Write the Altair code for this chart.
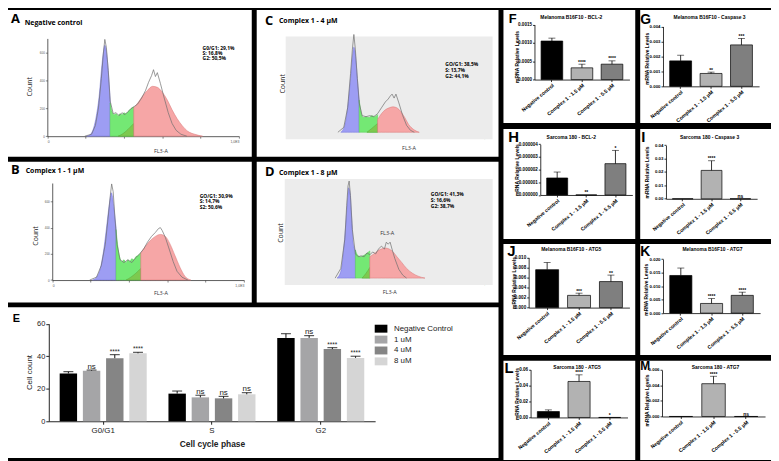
import altair as alt
import pandas as pd

FB = "Liberation Sans"
FF = "Open Sans"

# ---------------- Flow cytometry histograms (FL3-A channel 0-1000, counts) ----------------
A_BLUE_X = [205, 226, 241, 256, 272, 282, 292, 300, 308, 318, 328]
A_BLUE_Y = [0, 14, 56, 147, 308, 469, 595, 651, 609, 469, 259]
A_GREEN_X = [328, 338, 349, 359, 369, 379, 390, 400, 410, 420, 431, 441, 451]
A_GREEN_Y = [238, 175, 154, 161, 147, 161, 154, 168, 161, 175, 189, 203, 210]
A_OVER_X = [369, 390, 410, 431, 451]
A_OVER_Y = [0, 14, 35, 63, 91]
A_RED_X = [451, 472, 497, 523, 549, 574, 600, 626, 651, 677, 703, 733, 769, 810]
A_RED_Y = [203, 238, 287, 329, 357, 350, 315, 259, 189, 126, 77, 35, 14, 0]
A_GRAY_X = [195, 231, 251, 267, 282, 292, 300, 308, 318, 328, 344, 359, 374, 390, 405, 420, 436,
            451, 472, 492, 513, 528, 544, 554, 564, 574, 590, 610, 631, 651, 672, 697, 728]
A_GRAY_Y = [0, 14, 77, 203, 413, 588, 693, 637, 469, 252, 161, 168, 147, 168, 154, 175, 196,
            210, 231, 273, 329, 385, 434, 476, 427, 455, 378, 273, 168, 91, 42, 14, 0]

B_BLUE_X = [210, 231, 251, 267, 282, 292, 303, 308, 315, 323, 333]
B_BLUE_Y = [0, 22, 89, 215, 385, 511, 629, 666, 629, 533, 400]
B_GREEN_X = [333, 344, 354, 364, 374, 385, 395, 405, 415, 426, 436, 446, 462]
B_GREEN_Y = [385, 237, 163, 141, 155, 133, 155, 141, 163, 155, 178, 185, 207]
B_OVER_X = [385, 410, 436, 462]
B_OVER_Y = [0, 22, 52, 89]
B_RED_X = [462, 487, 513, 538, 564, 590, 615, 641, 667, 692, 723]
B_RED_Y = [207, 259, 303, 333, 348, 333, 274, 185, 96, 30, 0]
B_GRAY_X = [195, 231, 256, 277, 292, 303, 310, 318, 328, 338, 354, 374, 395, 415, 436, 456, 477,
            497, 518, 538, 554, 564, 574, 590, 610, 631, 651, 677, 708]
B_GRAY_Y = [0, 22, 111, 274, 481, 644, 733, 674, 459, 274, 155, 133, 155, 133, 170, 200, 237,
            289, 333, 363, 392, 400, 377, 326, 237, 141, 67, 22, 0]

C_BLUE_X = [184, 205, 221, 237, 247, 255, 263, 274, 284]
C_BLUE_Y = [0, 74, 263, 579, 811, 916, 842, 579, 347]
C_GREEN_X = [284, 295, 305, 321, 337, 353, 368, 384]
C_GREEN_Y = [347, 211, 158, 168, 158, 179, 168, 190]
C_OVER_X = [326, 353, 384]
C_OVER_Y = [0, 42, 95]
C_RED_X = [384, 405, 426, 447, 468, 489, 511, 532, 553, 579, 611]
C_RED_Y = [137, 200, 242, 263, 274, 263, 221, 158, 84, 32, 0]
C_GRAY_X = [168, 200, 221, 237, 247, 255, 263, 274, 284, 300, 321, 342, 363, 384, 405, 426, 442,
            453, 463, 474, 484, 500, 521, 542, 563, 584]
C_GRAY_Y = [0, 53, 263, 632, 895, 1053, 895, 579, 316, 179, 168, 179, 168, 200, 263, 326, 358,
            390, 411, 368, 411, 316, 179, 74, 21, 0]

D_BLUE_X = [189, 209, 224, 235, 245, 250, 258, 265, 275, 286]
D_BLUE_Y = [0, 74, 316, 579, 874, 979, 916, 684, 368, 300]
D_GREEN_X = [286, 296, 311, 326, 342, 362]
D_GREEN_Y = [305, 253, 232, 242, 263, 295]
D_OVER_X = [321, 342, 362]
D_OVER_Y = [0, 53, 116]
D_RED_X = [362, 383, 403, 423, 444, 464, 485, 505, 531, 556, 587, 617, 653]
D_RED_Y = [232, 263, 295, 316, 326, 316, 284, 232, 168, 105, 53, 21, 0]
D_GRAY_X = [179, 209, 230, 240, 247, 253, 260, 270, 286, 301, 316, 332, 347, 362, 377, 393, 408,
            423, 439, 449, 459, 469, 479, 494, 515, 536, 556]
D_GRAY_Y = [0, 105, 421, 790, 1000, 1053, 895, 526, 263, 232, 242, 232, 274, 253, 284, 263, 316,
            347, 316, 390, 368, 390, 316, 211, 95, 32, 0]

STATS_A = ["G0/G1: 29,1%", "S: 16,8%", "G2: 50,5%"]
STATS_B = ["GO/G1: 30,9%", "S: 14,7%", "S2: 50,6%"]
STATS_C = ["GO/G1: 38,5%", "S: 13,7%", "G2: 44,1%"]
STATS_D = ["GO/G1: 41,3%", "S: 16,6%", "G2: 38,7%"]
FLOW_XTICKS = [0, 200, 400, 600, 800, 1000]
YTICKS_AB = [0, 200, 400, 600]
YTICKS_CD = [0, 200, 400, 600, 800, 1000]

# ---------------- Panel E: cell cycle ----------------
E_PHASES = ["G0/G1", "S", "G2"]
E_GROUPS = ["Negative Control", "1 uM", "4 uM", "8 uM"]
E_COLORS = ["#000000", "#a5a5a7", "#858585", "#d5d5d5"]
E_NC = [29.4, 17.0, 51.3]
E_NC_ERR = [1.1, 1.6, 2.6]
E_1UM = [31.1, 14.7, 51.3]
E_1UM_ERR = [0.4, 1.3, 1.4]
E_4UM = [38.8, 14.1, 44.4]
E_4UM_ERR = [2.2, 1.2, 0.9]
E_8UM = [41.8, 16.6, 39.0]
E_8UM_ERR = [0.6, 1.0, 1.0]
E_NC_SIG = ["", "", ""]
E_1UM_SIG = ["ns", "ns", "ns"]
E_4UM_SIG = ["****", "ns", "****"]
E_8UM_SIG = ["****", "ns", "****"]

# ---------------- Panels F-M: mRNA relative levels ----------------
BAR_CATS = ["Negative control", "Complex 1 - 1.5 µM", "Complex 1 - 5.5 µM"]
BAR_COLORS = ["#000000", "#b2b2b2", "#7f7f7f"]
F_VAL = [0.00105, 0.00032, 0.00042]
F_ERR = [0.00008, 0.00010, 0.00009]
F_SIG = ["", "****", "****"]
G_VAL = [0.00170, 0.00086, 0.00277]
G_ERR = [0.00038, 0.00009, 0.00043]
G_SIG = ["", "**", "***"]
H_VAL = [0.00000134, 0.0, 0.00000247]
H_ERR = [0.00000047, 0.0, 0.00000105]
H_SIG = ["", "**", "*"]
I_VAL = [0.0, 0.0212, 0.0]
I_ERR = [0.0, 0.0072, 0.0]
I_SIG = ["", "****", "ns"]
J_VAL = [0.00756, 0.00244, 0.00519]
J_ERR = [0.00142, 0.00044, 0.00129]
J_SIG = ["", "***", "**"]
K_VAL = [0.01393, 0.00357, 0.00657]
K_ERR = [0.00275, 0.00179, 0.00118]
K_SIG = ["", "****", "****"]
L_VAL = [0.0074, 0.0452, 0.0]
L_ERR = [0.0021, 0.0083, 0.0]
L_SIG = ["", "****", "*"]
M_VAL = [0.0, 0.00423, 0.0]
M_ERR = [0.0, 0.00096, 0.0]
M_SIG = ["", "****", "ns"]


class Cell:
    """Maps reference-figure coordinates into a panel of size w x h."""
    def __init__(self, rx, ry, rw, rh, w, h):
        self.rx, self.ry, self.w, self.h = rx, ry, w, h
        self.sx, self.sy = w / rw, h / rh

    def X(self, x):
        return round((x - self.rx) * self.sx, 2)

    def Y(self, y):
        return round((y - self.ry) * self.sy, 2)


def label(cell, x, y, s, size, weight="normal", font=FB, align="left",
          baseline="alphabetic", color="black", lh=None):
    kw = dict(fontSize=size, fontWeight=weight, font=font, align=align,
              baseline=baseline, color=color)
    if lh:
        kw.update(lineBreak="\n", lineHeight=lh)
    return alt.Chart(alt.Data(values=[{"t": s}])).mark_text(**kw).encode(
        x=alt.value(cell.X(x)), y=alt.value(cell.Y(y)), text="t:N")


AREA_STYLE = {"blue": ("#9d9df3", "#6f6fdc"), "green": ("#74e874", "#50cf50"),
              "over": ("#7dc94f", "#5aa83a"), "red": ("#f6a6a6", "#d87474")}


def flow_panel(cell, letter, lxy, name, nxy, stats, sxy, slh, comps, xax, yax, ymax,
               yticks, xtitle, ytitle, bg=None, inner=None):
    xr0, xr1 = cell.X(xax[0]), cell.X(xax[1])
    yr0, yr1 = cell.Y(yax[0]), cell.Y(yax[1])
    xsc = alt.Scale(domain=[0, 1000], range=[xr0, xr1], nice=False, zero=False)
    ysc = alt.Scale(domain=[0, ymax], range=[yr0, yr1], nice=False)
    xaxis = alt.Axis(orient="bottom", offset=-(cell.h - yr0), values=FLOW_XTICKS,
                     labelExpr="datum.value == 0 ? '0' : (datum.value == 1000 ? '1,0E3' : '')",
                     labelFontSize=3.5, labelColor="#555", tickSize=2, tickColor="#333",
                     tickWidth=0.6, domainColor="#333", domainWidth=0.8, labelPadding=1,
                     title="FL3-A", titleFont=FF, titleFontSize=5.5, titleFontWeight="normal",
                     titleColor="#333", titleX=cell.X(xtitle[0]), titleY=cell.Y(xtitle[1]) - yr0,
                     titleAlign="center", titleBaseline="middle", grid=False)
    yaxis = alt.Axis(orient="left", offset=-xr0, values=yticks, labelFontSize=3,
                     labelColor="#555", tickSize=2, tickColor="#333", tickWidth=0.6,
                     domainColor="#333", domainWidth=0.8, labelPadding=1, title="Count",
                     titleFont=FF, titleFontSize=7, titleFontWeight="normal", titleColor="#222",
                     titleX=cell.X(ytitle[0]) - xr0, titleY=cell.Y(ytitle[1]), titleAngle=270,
                     titleAlign="center", titleBaseline="middle", grid=False)
    layers = []
    if bg:
        layers.append(alt.Chart(alt.Data(values=[{"x": bg[0], "x2": bg[1], "y": bg[2], "y2": bg[3]}]))
                      .mark_rect(color="#ececec")
                      .encode(x=alt.X("x:Q", scale=xsc, axis=xaxis), x2="x2:Q",
                              y=alt.Y("y:Q", scale=ysc, axis=yaxis), y2="y2:Q"))
    for xs, ys, kind in comps:
        df = pd.DataFrame({"x": xs, "y": ys})
        enc = dict(x=alt.X("x:Q", scale=xsc, axis=xaxis), y=alt.Y("y:Q", scale=ysc, axis=yaxis))
        if kind == "gray":
            layers.append(alt.Chart(df).mark_line(color="#6e6e6e", strokeWidth=0.7).encode(**enc))
        else:
            f, s = AREA_STYLE[kind]
            layers.append(alt.Chart(df).mark_area(fill=f, stroke=s, strokeWidth=0.5,
                                                  interpolate="monotone").encode(**enc))
    layers.append(label(cell, lxy[0], lxy[1], letter, 13, "bold", FF))
    layers.append(label(cell, nxy[0], nxy[1], name, 7, "bold", FF))
    layers.append(label(cell, sxy[0], sxy[1], "\n".join(stats), 5, "bold", FF, lh=slh))
    if inner:
        layers.append(label(cell, inner[0], inner[1], "FL3-A", 5.5, "normal", FF,
                            align="center", baseline="middle", color="#333"))
    return alt.layer(*layers).properties(width=cell.w, height=cell.h)


def bar_panel(cell, letter, lxy, lsize, title, txy, vals, errs, sigs, ydom, yticks, yfmt,
              yax_x, yb, yt, x1, ytitle_x, ytitle_y=None, tick_fs=4.6):
    df = pd.DataFrame({"cat": BAR_CATS, "val": vals, "err": errs, "sig": sigs})
    df["top"] = df["val"] + df["err"]
    xr = [cell.X(yax_x), cell.X(x1)]
    yr = [cell.Y(yb), cell.Y(yt)]
    tyc = cell.Y(ytitle_y) if ytitle_y is not None else (yr[0] + yr[1]) / 2
    xsc = alt.Scale(domain=BAR_CATS, range=xr, paddingInner=0.28, paddingOuter=0.22)
    ysc = alt.Scale(domain=ydom, range=yr, nice=False)
    xaxis = alt.Axis(orient="bottom", offset=-(cell.h - yr[0]), labelAngle=-40,
                     labelFontSize=5.2, labelFont=FB, labelFontWeight="bold", labelColor="black",
                     tickSize=2, tickColor="black", tickWidth=0.8, domainColor="black",
                     domainWidth=0.8, labelPadding=1, title=None, grid=False)
    yaxis = alt.Axis(orient="left", offset=-xr[0], values=yticks, format=yfmt,
                     labelFontSize=tick_fs, labelFont=FB, labelFontWeight="bold", labelColor="black",
                     tickSize=2, tickColor="black", tickWidth=0.8, domainColor="black",
                     domainWidth=0.8, labelPadding=1, title="mRNA Relative Levels",
                     titleFont=FB, titleFontSize=5, titleFontWeight="bold", titleColor="black",
                     titleX=cell.X(ytitle_x) - xr[0], titleY=tyc,
                     titleAngle=270, titleAlign="center", titleBaseline="middle", grid=False)
    base = alt.Chart(df)
    xenc = alt.X("cat:N", sort=BAR_CATS, scale=xsc, axis=xaxis)
    bars = base.mark_bar(stroke="black", strokeWidth=0.7).encode(
        x=xenc, y=alt.Y("val:Q", scale=ysc, axis=yaxis),
        color=alt.Color("cat:N", scale=alt.Scale(domain=BAR_CATS, range=BAR_COLORS), legend=None))
    rules = base.transform_filter("datum.err > 0").mark_rule(color="black", strokeWidth=0.8).encode(
        x=xenc, y=alt.Y("val:Q", scale=ysc, axis=yaxis), y2="top:Q")
    caps = base.transform_filter("datum.err > 0").mark_tick(color="black", thickness=0.8, size=7).encode(
        x=xenc, y=alt.Y("top:Q", scale=ysc, axis=yaxis))
    sig = base.transform_filter("datum.sig != ''").mark_text(
        fontSize=5, fontWeight="bold", font=FB, baseline="alphabetic", dy=-0.5, color="black").encode(
        x=xenc, y=alt.Y("top:Q", scale=ysc, axis=yaxis), text="sig:N")
    lt = label(cell, lxy[0], lxy[1], letter, lsize, "bold", FB)
    tt = label(cell, txy[0], txy[1], title, 5, "bold", FB, align="center")
    return alt.layer(bars, rules, caps, sig, lt, tt).properties(width=cell.w, height=cell.h)


def e_panel(cell):
    rows = []
    for g, vals, errs, sigs in zip(E_GROUPS, [E_NC, E_1UM, E_4UM, E_8UM],
                                   [E_NC_ERR, E_1UM_ERR, E_4UM_ERR, E_8UM_ERR],
                                   [E_NC_SIG, E_1UM_SIG, E_4UM_SIG, E_8UM_SIG]):
        for p, v, e, s in zip(E_PHASES, vals, errs, sigs):
            rows.append({"phase": p, "group": g, "val": v, "err": e, "top": v + e, "sig": s})
    df = pd.DataFrame(rows)
    xsc = alt.Scale(domain=E_PHASES, range=[cell.X(42), cell.X(378)], paddingInner=0.2, paddingOuter=0.1)
    osc = alt.Scale(domain=E_GROUPS, paddingInner=0.25, paddingOuter=0)
    ysc = alt.Scale(domain=[0, 60], range=[cell.Y(423), cell.Y(322)], nice=False)
    ax_y = cell.Y(423)
    xaxis = alt.Axis(orient="bottom", offset=-(cell.h - ax_y), labelFontSize=8, labelFont=FB,
                     labelColor="#222", labelAngle=0, tickSize=3, tickColor="#222",
                     domainColor="#222", domainWidth=1, labelPadding=2, title="Cell cycle phase",
                     titleFont=FB, titleFontSize=8.5, titleFontWeight="bold", titleColor="#222",
                     titleY=cell.Y(446) - ax_y, titleBaseline="middle", grid=False)
    yaxis = alt.Axis(orient="left", offset=-cell.X(42), values=[0, 20, 40, 60], labelFontSize=7.5,
                     labelFont=FB, labelColor="#222", tickSize=3, tickColor="#222",
                     domainColor="#222", domainWidth=1, labelPadding=1, title="Cell count",
                     titleFont=FB, titleFontSize=8, titleFontWeight="normal", titleColor="#222",
                     titleX=cell.X(22) - cell.X(42), titleY=cell.Y(372), titleAngle=270,
                     titleAlign="center", titleBaseline="middle", grid=False)
    xenc = alt.X("phase:N", sort=E_PHASES, scale=xsc, axis=xaxis)
    oenc = alt.XOffset("group:N", sort=E_GROUPS, scale=osc)
    base = alt.Chart(df)
    bars = base.mark_bar().encode(
        x=xenc, xOffset=oenc, y=alt.Y("val:Q", scale=ysc, axis=yaxis),
        color=alt.Color("group:N", sort=E_GROUPS, scale=alt.Scale(domain=E_GROUPS, range=E_COLORS),
                        legend=alt.Legend(orient="none", legendX=cell.X(380), legendY=cell.Y(323),
                                          title=None, labelFont=FB, labelFontSize=8,
                                          labelColor="#222", symbolType="M-1.6,-1H1.6V1H-1.6Z",
                                          symbolSize=64, symbolStrokeWidth=0, labelOffset=9,
                                          rowPadding=3)))
    rules = base.mark_rule(color="#111", strokeWidth=1).encode(
        x=xenc, xOffset=oenc, y=alt.Y("val:Q", scale=ysc, axis=yaxis), y2="top:Q")
    caps = base.mark_tick(color="#111", thickness=1.2, size=10).encode(
        x=xenc, xOffset=oenc, y=alt.Y("top:Q", scale=ysc, axis=yaxis))
    ns = base.transform_filter("datum.sig == 'ns'").mark_text(
        fontSize=8, font=FB, baseline="alphabetic", dy=-1.5, color="#222").encode(
        x=xenc, xOffset=oenc, y=alt.Y("top:Q", scale=ysc, axis=yaxis), text="sig:N")
    stars = base.transform_filter("datum.sig != 'ns' && datum.sig != ''").mark_text(
        fontSize=6.5, font=FB, baseline="alphabetic", dy=-1, color="#222").encode(
        x=xenc, xOffset=oenc, y=alt.Y("top:Q", scale=ysc, axis=yaxis), text="sig:N")
    lt = label(cell, 5, 320, "E", 11, "bold", FB)
    return alt.layer(bars, rules, caps, ns, stars, lt).properties(width=cell.w, height=cell.h)


# ---------------- cells ----------------
cA = Cell(0, 0, 248, 150, 246, 148)
cC = Cell(253, 0, 250, 150, 244, 148)
cB = Cell(0, 155, 248, 145, 246, 142)
cD = Cell(253, 155, 250, 145, 244, 142)
cE = Cell(0, 305, 505, 156, 495, 152)
cF = Cell(507, 0, 136, 117, 133, 114)
cG = Cell(647, 0, 132, 117, 132, 114)
cH = Cell(507, 121, 136, 115, 133, 111)
cI = Cell(647, 121, 132, 115, 132, 111)
cJ = Cell(507, 240, 136, 115, 133, 112)
cK = Cell(647, 240, 132, 115, 132, 112)
cL = Cell(507, 360, 136, 101, 133, 100)
cM = Cell(647, 360, 132, 101, 132, 100)

pA = flow_panel(cA, "A", (3, 13.5), "Negative control", (17, 15), STATS_A, (198, 40.5), 5.3,
                [(A_BLUE_X, A_BLUE_Y, "blue"), (A_GREEN_X, A_GREEN_Y, "green"),
                 (A_OVER_X, A_OVER_Y, "over"), (A_RED_X, A_RED_Y, "red"),
                 (A_GRAY_X, A_GRAY_Y, "gray")],
                (40, 235), (129, 29), 700, YTICKS_AB, (155, 143.5), (22, 78))
pB = flow_panel(cB, "B", (3, 167.5), "Complex 1 - 1 µM", (18, 166.5), STATS_B, (195, 192), 5.8,
                [(B_BLUE_X, B_BLUE_Y, "blue"), (B_GREEN_X, B_GREEN_Y, "green"),
                 (B_OVER_X, B_OVER_Y, "over"), (B_RED_X, B_RED_Y, "red"),
                 (B_GRAY_X, B_GRAY_Y, "gray")],
                (45, 240), (277, 177), 740, YTICKS_AB, (155, 290), (28, 231))
pC = flow_panel(cC, "C", (261.5, 15), "Complex 1 - 4 µM", (276, 13.5), STATS_C, (448, 57), 6.1,
                [(C_BLUE_X, C_BLUE_Y, "blue"), (C_GREEN_X, C_GREEN_Y, "green"),
                 (C_OVER_X, C_OVER_Y, "over"), (C_RED_X, C_RED_Y, "red"),
                 (C_GRAY_X, C_GRAY_Y, "gray")],
                (305, 495), (125, 30), 1000, YTICKS_CD, (410, 141), (280, 75),
                bg=(-116, 1010, -74, 1032))
pD = flow_panel(cD, "D", (261.5, 170), "Complex 1 - 8 µM", (276, 168.5), STATS_D, (433, 190.5), 6.2,
                [(D_BLUE_X, D_BLUE_Y, "blue"), (D_GREEN_X, D_GREEN_Y, "green"),
                 (D_OVER_X, D_OVER_Y, "over"), (D_RED_X, D_RED_Y, "red"),
                 (D_GRAY_X, D_GRAY_Y, "gray")],
                (299, 495), (275, 180), 1000, YTICKS_CD, (390, 289), (278, 228),
                bg=(-87, 1010, -74, 1074), inner=(388, 229))
pE = e_panel(cE)

pF = bar_panel(cF, "F", (512.5, 13), 13, "Melanoma B16F10 - BCL-2", (577, 9.5), F_VAL, F_ERR, F_SIG,
               [0, 0.0015], [0, 0.0005, 0.001, 0.0015], ".4f", 539, 72, 15, 637, 520, 48)
pG = bar_panel(cG, "G", (647, 14), 14, "Melanoma B16F10 - Caspase 3", (717, 9.5), G_VAL, G_ERR, G_SIG,
               [0, 0.004], [0, 0.001, 0.002, 0.003, 0.004], ".3f", 670, 79, 17, 767, 653, 50, 4.4)
pH = bar_panel(cH, "H", (512, 135), 15, "Sarcoma 180 - BCL-2", (577, 131.5), H_VAL, H_ERR, H_SIG,
               [0, 0.000004], [0, 0.000001, 0.000002, 0.000003, 0.000004], ".6f", 545, 190, 137, 640, 520)
pI = bar_panel(cI, "I", (648, 135), 15, "Sarcoma 180 - Caspase 3", (717, 131.5), I_VAL, I_ERR, I_SIG,
               [0, 0.04], [0, 0.01, 0.02, 0.03, 0.04], ".2f", 673, 194, 138, 765, 653, None, 4.4)
pJ = bar_panel(cJ, "J", (511, 253), 15, "Melanoma B16F10 - ATG5", (577, 247), J_VAL, J_ERR, J_SIG,
               [0, 0.010], [0, 0.002, 0.004, 0.006, 0.008, 0.010], ".3f", 533, 306, 254, 637, 517)
pK = bar_panel(cK, "K", (647, 253), 14, "Melanoma B16F10 - ATG7", (720, 247), K_VAL, K_ERR, K_SIG,
               [0, 0.02], [0, 0.005, 0.010, 0.015, 0.020], ".3f", 670, 311.7, 255.7, 768, 652, 287, 4.4)
pL = bar_panel(cL, "L", (508, 372), 15, "Sarcoma 180 - ATG5", (583, 368), L_VAL, L_ERR, L_SIG,
               [0, 0.06], [0, 0.02, 0.04, 0.06], ".2f", 535, 417.7, 369, 635, 520)
pM = bar_panel(cM, "M", (647, 369.5), 12, "Sarcoma 180 - ATG7", (723, 368), M_VAL, M_ERR, M_SIG,
               [0, 0.006], [0, 0.002, 0.004, 0.006], ".3f", 669, 416.7, 369.3, 773, 653, 400, 4.4)


def hrow(*charts):
    return alt.hconcat(*charts, spacing=5, bounds="flush").resolve_scale(color="independent")


left = alt.vconcat(hrow(pA, pC), hrow(pB, pD), pE, spacing=5).resolve_scale(color="independent")
right = alt.vconcat(hrow(pF, pG), hrow(pH, pI), hrow(pJ, pK), hrow(pL, pM),
                    spacing=5).resolve_scale(color="independent")

chart = (alt.hconcat(left, right, spacing=5)
         .resolve_scale(color="independent")
         .properties(background="black", padding=0)
         .configure_view(fill="white", stroke=None)
         .configure_axis(grid=False))

chart.save("out.html", embed_options={"renderer": "svg", "actions": False})
